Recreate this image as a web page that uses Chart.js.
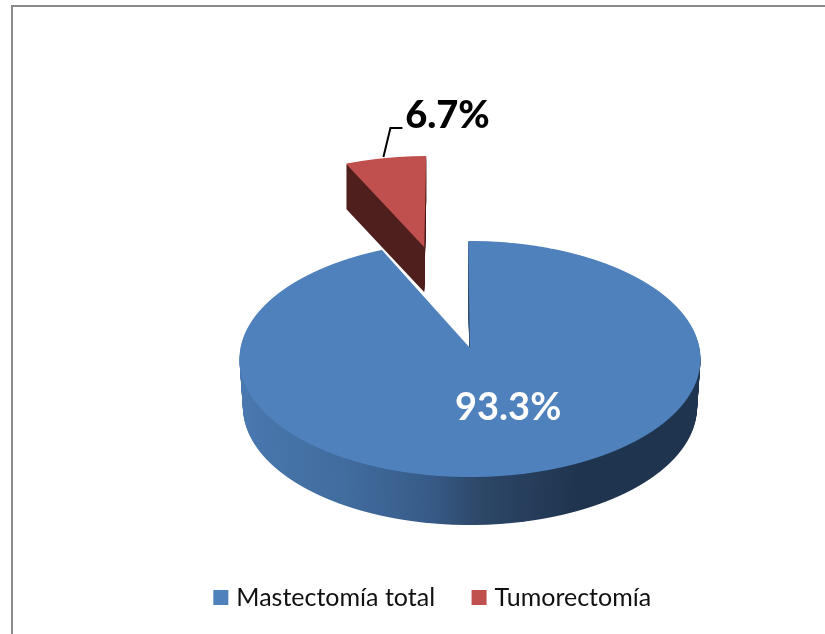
<!DOCTYPE html>
<html>
<head>
<meta charset="utf-8">
<title>Tipo de cirugía</title>
<script src="https://cdn.jsdelivr.net/npm/chart.js@4"></script>
<style>
    body { margin: 0; background: #fff; }
    #frame { position: absolute; left: 11px; top: 5px; right: 0; bottom: 0; border-top: 2px solid #8a8a8a; border-left: 2px solid #8a8a8a; }
    canvas { position: absolute; left: 0; top: 0; }
</style>
</head>
<body>
<div id="frame"></div>
<canvas id="surgeryChart" width="825" height="634"></canvas>
<script>
const categories = ['Mastectomía total', 'Tumorectomía'];
const percentages = [93.3, 6.7];
const explode = [0, 0.96];
const topColors = ['#4f81bd', '#c0504d'];

// Perspective of the tilted disc: centre, half axes and foreshortening
const view = { cx: 470, cy: 348, a: 229.5, b: 117, k: 0.0932 };
const thickness = [48, 45];
const bottomShrink = [0.985, 1];
const sliceNudge = [0, -0.008];

function vAtRow(y) {
    const t = y - view.cy;
    return -t / (view.b + view.k * t);
}

function project(u, v) {
    const w = 1 + view.k * v;
    return { x: view.cx + view.a * u / w, y: view.cy - view.b * v / w };
}

// Draws an arc row by row so a flat Chart.js sector lands on the tilted disc
function drawTilted(ctx, arc, fill, shift, shrink, push) {
    const R = arc.outerRadius;
    const piece = Object.create(arc);
    piece.options = Object.assign({}, arc.options, { backgroundColor: fill, borderWidth: 0 });
    piece.x = arc.x + push.u * R;
    piece.y = arc.y - push.v * R;

    const top = Math.floor(project(0, push.v + 1.02).y + shift);
    const bottom = Math.ceil(project(0, push.v - 1.02).y + shift);
    for (let row = top; row < bottom; row++) {
        const v0 = vAtRow(row - shift);
        const v1 = vAtRow(row + 1 - shift);
        const w = 1 + view.k * (v0 + v1) / 2;
        const sx = shrink * view.a / (w * R);
        const y0 = arc.y - v0 * R;
        const y1 = arc.y - v1 * R;
        const sy = 1 / (y1 - y0);
        ctx.save();
        ctx.beginPath();
        ctx.rect(0, row, ctx.canvas.width, 1);
        ctx.clip();
        ctx.setTransform(sx, 0, 0, sy, view.cx - sx * arc.x, row - sy * y0);
        piece.draw(ctx);
        ctx.restore();
    }
}

const tiltedPie = {
    id: 'tiltedPie',
    beforeDatasetsDraw(chart) {
        const ctx = chart.ctx;
        const arcs = chart.getDatasetMeta(0).data;

        const pushes = arcs.map((arc, i) => {
            const mid = (arc.startAngle + arc.endAngle) / 2;
            return { u: Math.cos(mid) * explode[i] + sliceNudge[i], v: -Math.sin(mid) * explode[i] };
        });

        // Side wall shading of the big slice runs left to right
        const R = arcs[0].outerRadius;
        const wall = ctx.createLinearGradient(arcs[0].x - R, 0, arcs[0].x + R, 0);
        wall.addColorStop(0, '#4a79b0');
        wall.addColorStop(0.25, '#416c9e');
        wall.addColorStop(0.42, '#375b88');
        wall.addColorStop(0.52, '#2d4768');
        wall.addColorStop(0.72, '#1f344e');
        wall.addColorStop(1, '#1f344e');
        const wallFill = [wall, '#4e1f1d'];

        // Far slice first, then the near one on top
        for (let i = arcs.length - 1; i >= 0; i--) {
            for (let d = thickness[i]; d >= 1; d--) {
                const shrink = 1 - (1 - bottomShrink[i]) * d / thickness[i];
                drawTilted(ctx, arcs[i], wallFill[i], d, shrink, pushes[i]);
            }
            drawTilted(ctx, arcs[i], topColors[i], 0, 1, pushes[i]);
        }

        drawLabels(ctx, arcs, pushes);
        return false;
    }
};

function drawLabels(ctx, arcs, pushes) {
    const midAngle = (arc) => (arc.startAngle + arc.endAngle) / 2;
    ctx.save();
    ctx.textAlign = 'center';
    ctx.textBaseline = 'middle';

    // Big slice: value inside the top face
    const a0 = midAngle(arcs[0]);
    const inside = project(Math.cos(a0) * 0.5, -Math.sin(a0) * 0.5);
    ctx.font = 'bold 38px Lato';
    ctx.fillStyle = '#fff';
    ctx.fillText(percentages[0].toFixed(1) + '%', inside.x + 12, inside.y);

    // Small slice: value outside with a leader line
    const a1 = midAngle(arcs[1]);
    const edge = project(pushes[1].u + Math.cos(a1), pushes[1].v - Math.sin(a1));
    const start = { x: edge.x - 2, y: edge.y - 1 };
    ctx.strokeStyle = '#000';
    ctx.lineWidth = 2;
    ctx.beginPath();
    ctx.moveTo(start.x, start.y);
    ctx.lineTo(start.x + 7, start.y - 29);
    ctx.lineTo(start.x + 19, start.y - 29);
    ctx.stroke();
    ctx.font = '900 38px Lato';
    ctx.fillStyle = '#000';
    ctx.fillText(percentages[1].toFixed(1) + '%', start.x + 64, start.y - 41);
    ctx.restore();
}

new Chart(document.getElementById('surgeryChart'), {
    type: 'pie',
    data: {
        labels: categories,
        datasets: [{
            data: percentages,
            backgroundColor: topColors,
            borderWidth: 0
        }]
    },
    options: {
        responsive: false,
        animation: false,
        rotation: -0.5,
        layout: { padding: { left: 44, bottom: 14 } },
        plugins: {
            tooltip: { enabled: false },
            legend: {
                position: 'bottom',
                labels: {
                    usePointStyle: true,
                    pointStyle: 'rect',
                    boxWidth: 6,
                    boxHeight: 15,
                    padding: 41,
                    color: '#111',
                    font: { family: 'Lato', size: 25 }
                }
            }
        }
    },
    plugins: [tiltedPie]
});
</script>
</body>
</html>
